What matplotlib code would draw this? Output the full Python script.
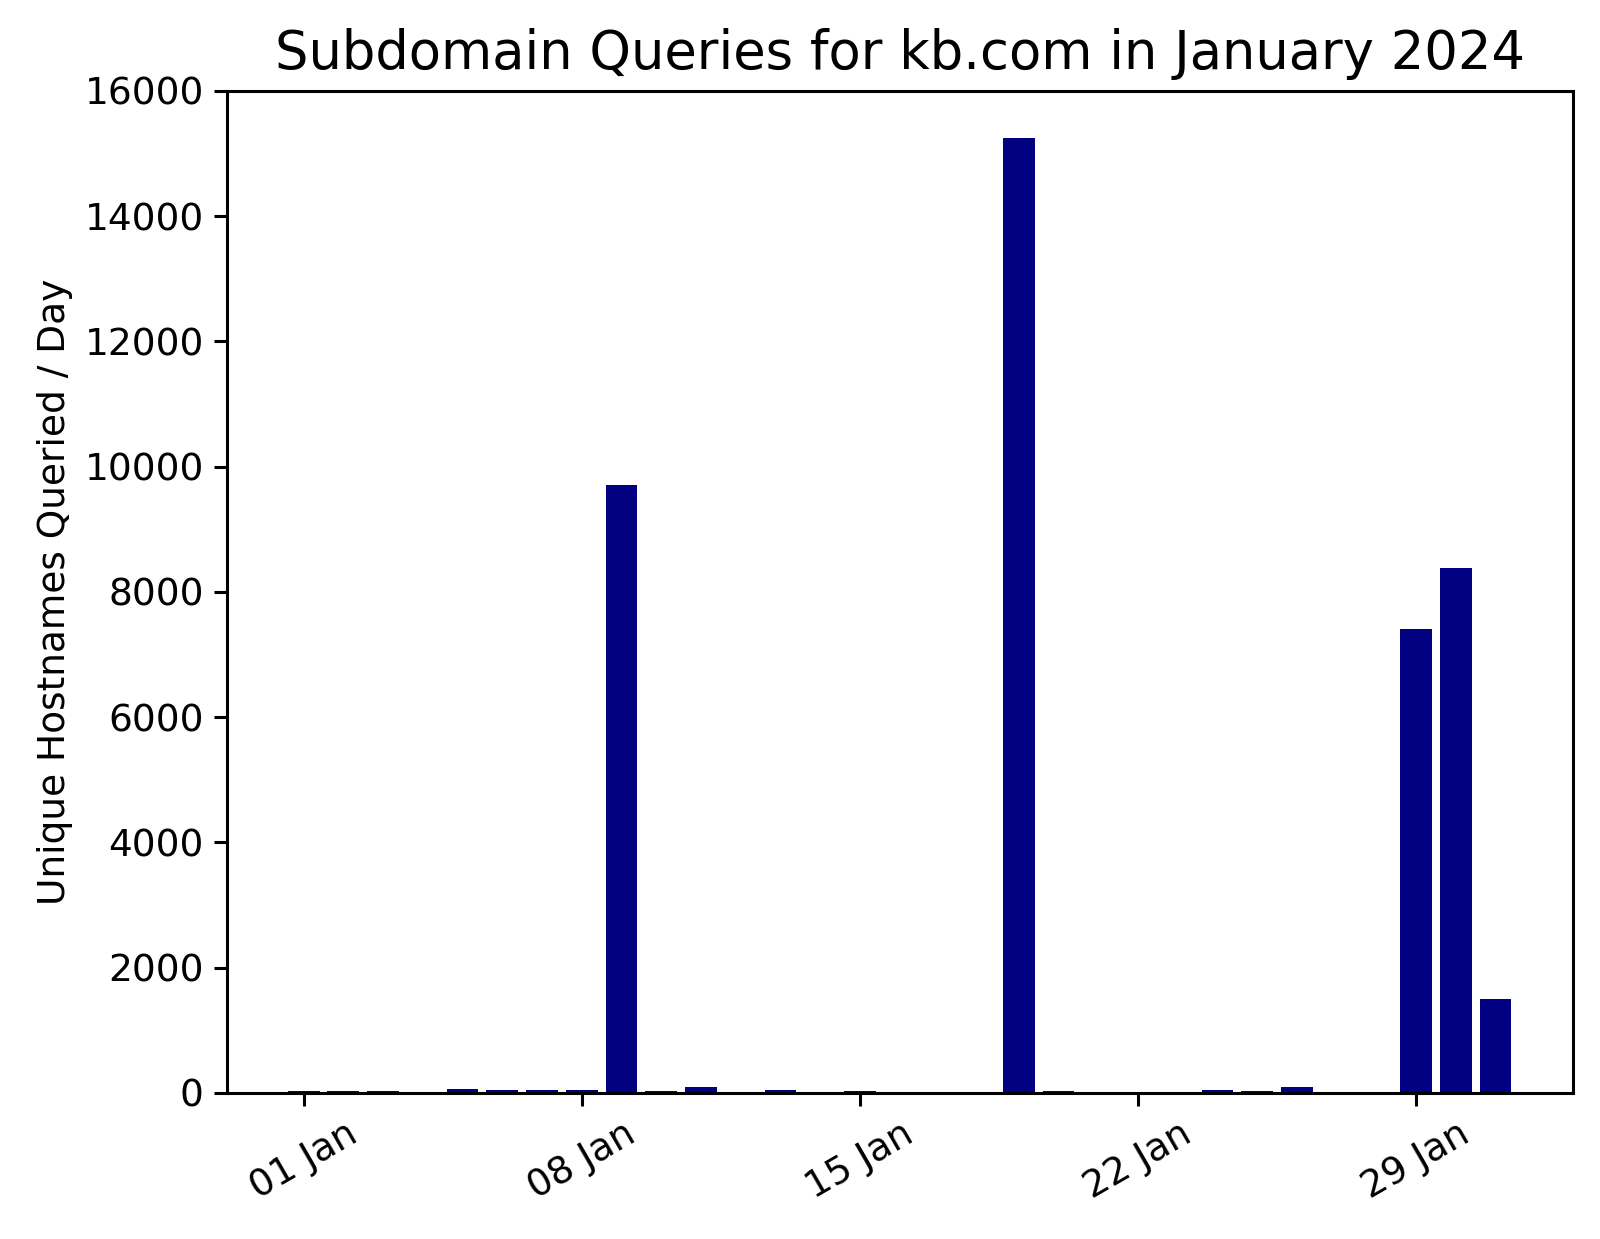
import matplotlib
matplotlib.use("Agg")
import matplotlib.pyplot as plt
import matplotlib.dates as mdates
import datetime as dt

days = list(range(1, 32))
counts = [30, 30, 30, 0, 70, 50, 50, 50, 9700, 25, 100, 0, 50, 0, 25,
          0, 0, 0, 15250, 25, 0, 0, 0, 40, 30, 100, 0, 0, 7400, 8380, 1500]
tick_days = [1, 8, 15, 22, 29]

dates = [dt.date(2024, 1, d) for d in days]

fig = plt.figure(figsize=(8, 6.195), dpi=200)
ax = fig.add_axes([0.1416, 0.1179, 0.8413, 0.8088])
ax.bar(dates, counts, width=0.8, color="navy")
ax.set_xticks([dt.date(2024, 1, d) for d in tick_days])
ax.xaxis.set_major_formatter(mdates.DateFormatter("%d %b"))
ax.tick_params(labelsize=13.5, length=4.7, width=1.1)
plt.setp(ax.get_xticklabels(), rotation=30)
for s in ax.spines.values():
    s.set_linewidth(1.1)
ax.set_ylim(0, 16000)
ax.set_ylabel("Unique Hostnames Queried / Day", fontsize=13.5)
ax.set_title("Subdomain Queries for kb.com in January 2024", fontsize=19, pad=8)
fig.savefig("out.png", dpi=200)
